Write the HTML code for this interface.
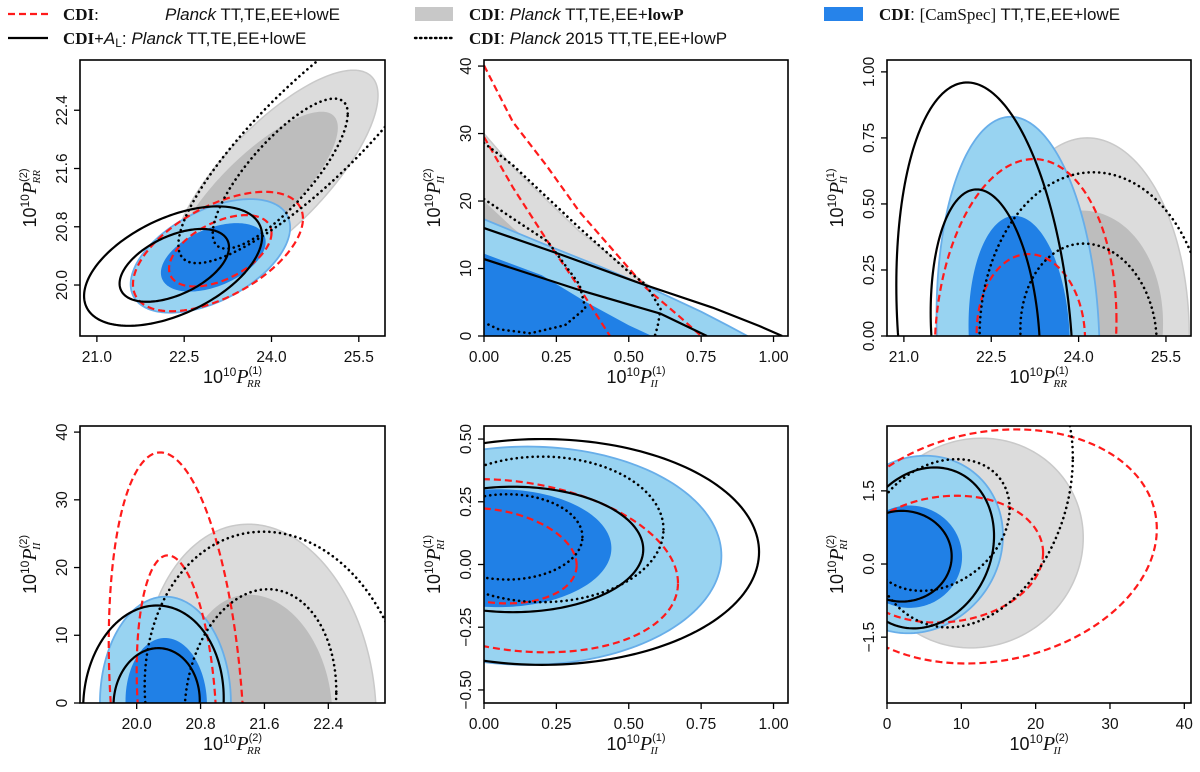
<!DOCTYPE html>
<html><head><meta charset="utf-8">
<style>
html,body{margin:0;padding:0;background:#fff;width:1200px;height:772px;overflow:hidden;}
svg{display:block;font-family:"Liberation Sans","DejaVu Sans",sans-serif;}
.tick{font-size:15.5px;fill:#111;}
.lab{font-size:18px;fill:#111;}
.leg{font-size:17px;fill:#111;}
</style></head>
<body>
<svg id="fig" width="1200" height="772" viewBox="0 0 1200 772">
<g id="legend">
  <g>
    <line x1="8" y1="14" x2="48" y2="14" stroke="#ff1a1a" stroke-width="2.2" stroke-dasharray="7,4"/>
    <text class="leg" x="63" y="20" font-family="Liberation Serif" font-weight="bold">CDI<tspan font-weight="normal">:</tspan></text>
    <text class="leg" x="165" y="20"><tspan font-style="italic">Planck</tspan> TT,TE,EE+lowE</text>
  </g>
  <g>
    <line x1="8" y1="38" x2="48" y2="38" stroke="#000" stroke-width="2.2"/>
    <text class="leg" x="63" y="44"><tspan font-family="Liberation Serif" font-weight="bold">CDI+</tspan><tspan font-style="italic">A</tspan><tspan font-size="12" dy="3">L</tspan><tspan dy="-3">: </tspan><tspan font-style="italic">Planck</tspan> TT,TE,EE+lowE</text>
  </g>
  <g>
    <rect x="415" y="7" width="38" height="14" fill="#c8c8c8"/>
    <text class="leg" x="469" y="20"><tspan font-family="Liberation Serif" font-weight="bold">CDI</tspan>: <tspan font-style="italic">Planck</tspan> TT,TE,EE+<tspan font-family="Liberation Serif" font-weight="bold">lowP</tspan></text>
  </g>
  <g>
    <line x1="415" y1="38" x2="453" y2="38" stroke="#000" stroke-width="2.4" stroke-dasharray="1.5,3.5" stroke-linecap="round"/>
    <text class="leg" x="469" y="44"><tspan font-family="Liberation Serif" font-weight="bold">CDI</tspan>: <tspan font-style="italic">Planck</tspan> 2015 TT,TE,EE+lowP</text>
  </g>
  <g>
    <rect x="824" y="7" width="39" height="14" fill="#2683ea"/>
    <text class="leg" x="879" y="20"><tspan font-family="Liberation Serif" font-weight="bold">CDI</tspan>: <tspan font-family="Liberation Serif">[CamSpec]</tspan> TT,TE,EE+lowE</text>
  </g>
</g>
<g id="panels"></g>
</svg>
<script>
// ===== Panel tick data =====
const p1XTicks = [21.0, 22.5, 24.0, 25.5];
const p1YTicks = [20.0, 20.8, 21.6, 22.4];
const p2XTicks = [0.00, 0.25, 0.50, 0.75, 1.00];
const p2YTicks = [0, 10, 20, 30, 40];
const p3XTicks = [21.0, 22.5, 24.0, 25.5];
const p3YTicks = [0.00, 0.25, 0.50, 0.75, 1.00];
const p4XTicks = [20.0, 20.8, 21.6, 22.4];
const p4YTicks = [0, 10, 20, 30, 40];
const p5XTicks = [0.00, 0.25, 0.50, 0.75, 1.00];
const p5YTicks = [-0.50, -0.25, 0.00, 0.25, 0.50];
const p6XTicks = [0, 10, 20, 30, 40];
const p6YTicks = [-1.5, 0.0, 1.5];

// ===== Contour data: ellipse params [cx, cy, sx, sy, rho] in data units =====
const p1Contours = [
  [24.07, 21.51, 1.76, 1.44, 0.76],[23.74, 21.28, 1.40, 1.10, 0.80],
  [22.95, 20.40, 1.37, 0.78, 0.50],[23.00, 20.38, 0.90, 0.47, 0.45],
  [23.08, 20.46, 1.46, 0.82, 0.55],[23.12, 20.47, 0.88, 0.49, 0.50],
  [22.31, 20.26, 1.53, 0.82, 0.50],[22.33, 20.27, 0.94, 0.50, 0.50],
  [24.70, 22.10, 2.30, 1.80, 0.86],[24.15, 21.53, 1.16, 1.03, 0.80]
];
const p3Contours = [
  [24.15, 0, 1.75, 0.75, 0.00],[23.90, 0, 1.55, 0.475, 0.10],
  [22.96, 0, 1.40, 0.83, -0.09],[22.98, 0, 0.87, 0.455, -0.09],
  [23.09, 0, 1.56, 0.67, 0.09],[23.18, 0, 0.93, 0.31, -0.04],
  [22.39, 0, 1.52, 0.96, -0.20],[22.40, 0, 0.94, 0.555, -0.16],
  [24.25, 0, 1.95, 0.62, 0.00],[24.17, 0, 1.17, 0.35, -0.07]
];
const p4Contours = [
  [21.53, 0, 1.47, 26.4, -0.09],[21.52, 0, 0.93, 16.0, -0.12],
  [20.36, 0, 0.82, 15.7, 0.00],[20.37, 0, 0.51, 9.6, -0.03],
  [20.50, 0, 0.85, 37.0, -0.24],[20.50, 0, 0.50, 21.8, -0.22],
  [20.21, 0, 0.88, 14.4, 0.05],[20.25, 0, 0.54, 8.1, 0.04],
  [21.75, 0, 1.65, 25.3, -0.10],[21.55, 0, 0.95, 16.8, 0.10]
];
const p5Contours = [
  [0.15, 0.04, 0.60, 0.42, 0.0],[0.05, 0.06, 0.36, 0.22, 0.0],
  [0.15, 0.035, 0.67, 0.435, 0.0],[0.05, 0.065, 0.39, 0.235, 0.0],
  [0.10, -0.005, 0.57, 0.345, -0.2],[0.02, 0.035, 0.30, 0.19, -0.2],
  [0.20, 0.05, 0.75, 0.45, 0.0],[0.10, 0.06, 0.45, 0.25, 0.0],
  [0.20, 0.14, 0.42, 0.29, 0.0],[0.08, 0.11, 0.26, 0.17, 0.0]
];
const p6Contours = [
  [12.0, 0.43, 14.4, 2.15, 0.05],[4.0, 0.20, 10.0, 1.40, 0.05],
  [4.0, 0.40, 11.6, 1.82, 0.10],[3.0, 0.15, 7.1, 1.05, 0.0],
  [14.0, 0.36, 22.3, 2.40, 0.15],[8.0, 0.10, 13.0, 1.30, 0.10],
  [5.0, 0.33, 9.4, 1.65, 0.15],[2.0, 0.16, 6.7, 0.93, 0.0],
  [11.0, 1.60, 14.0, 2.90, 0.20],[7.0, 0.80, 9.5, 1.35, 0.25]
];
// Panel 2 contour point arrays (x, y)
const p2GrayOuterX = [0, 0.10, 0.22, 0.33, 0.45, 0.55, 0.70, 0.85];
const p2GrayOuterY = [30, 25, 20, 15.5, 11.5, 8, 4, 0];
const p2GrayInnerX = [0, 0.10, 0.30, 0.50, 0.60];
const p2GrayInnerY = [20, 16, 9, 3, 0];
const p2BlueOuterX = [0, 0.22, 0.40, 0.55, 0.75, 0.84, 0.91];
const p2BlueOuterY = [17.3, 13.4, 10.3, 7.6, 3.6, 1.6, 0];
const p2BlueInnerX = [0, 0.20, 0.35, 0.50, 0.58];
const p2BlueInnerY = [12.2, 9, 5.1, 1.6, 0];
const p2RedOuterX = [0, 0.10, 0.215, 0.33, 0.44, 0.56, 0.68, 0.75];
const p2RedOuterY = [40.1, 31.7, 25.3, 18.4, 13, 7.1, 2.7, 0];
const p2RedInnerX = [0, 0.10, 0.22, 0.33, 0.435];
const p2RedInnerY = [29.5, 22, 14, 7.1, 0];
const p2BlackOuterX = [0, 0.25, 0.54, 0.79, 0.95, 1.03];
const p2BlackOuterY = [16, 12.3, 7.8, 4.2, 1.5, 0];
const p2BlackInnerX = [0, 0.33, 0.61, 0.77];
const p2BlackInnerY = [11.4, 6.8, 3.3, 0];
const p2DotOuterX = [0, 0.10, 0.33, 0.50, 0.56, 0.61, 0.60, 0.59];
const p2DotOuterY = [28.6, 25.3, 16, 9.5, 7.6, 4, 1.5, 0];
const p2DotInnerX = [0, 0.10, 0.22, 0.33, 0.35, 0.28, 0.16, 0.05, 0];
const p2DotInnerY = [20.3, 17.4, 14, 7.6, 4.1, 1.6, 0.4, 1.0, 2.0];

const NS = "http://www.w3.org/2000/svg";
const root = document.getElementById('panels');
function mk(tag, attrs, parent){
  const e = document.createElementNS(NS, tag);
  for (const k in attrs) e.setAttribute(k, attrs[k]);
  if (parent) parent.appendChild(e);
  return e;
}
const STY = [
  {fill:'#dcdcdc', stroke:'#c9c9c9', sw:1.5},
  {fill:'#bdbdbd', stroke:'none', sw:0},
  {fill:'#98d3f1', stroke:'#68aee9', sw:1.8},
  {fill:'#2080e6', stroke:'none', sw:0},
  {fill:'none', stroke:'#ff1a1a', sw:2.2, dash:'7,4'},
  {fill:'none', stroke:'#ff1a1a', sw:2.2, dash:'7,4'},
  {fill:'none', stroke:'#000', sw:2.2},
  {fill:'none', stroke:'#000', sw:2.2},
  {fill:'none', stroke:'#000', sw:2.6, dash:'0.1,5.2', cap:'round'},
  {fill:'none', stroke:'#000', sw:2.6, dash:'0.1,5.2', cap:'round'}
];
const NAMES = ['gray-outer-contour','gray-inner-contour','blue-outer-contour','blue-inner-contour','red-dashed-outer-contour','red-dashed-inner-contour','black-outer-contour','black-inner-contour','dotted-outer-contour','dotted-inner-contour'];

function styleEl(el, s){
  el.setAttribute('fill', s.fill);
  el.setAttribute('stroke', s.stroke);
  el.setAttribute('stroke-width', s.sw);
  if (s.dash) el.setAttribute('stroke-dasharray', s.dash);
  if (s.cap) el.setAttribute('stroke-linecap', s.cap);
  el.setAttribute('stroke-linejoin','round');
}

function ellipseD(c, X, Y, box){
  const [cx, cy, sx, sy, rho] = c;
  const q = Math.sqrt(1 - rho*rho);
  let d = '';
  for (let i = 0; i <= 200; i++){
    const t = i/200*2*Math.PI;
    const x = cx + sx*Math.cos(t);
    const y = cy + sy*(rho*Math.cos(t) + q*Math.sin(t));
    let px = Math.min(box[1], Math.max(box[0], X(x)));
    let py = Math.min(box[3], Math.max(box[2], Y(y)));
    d += (i ? 'L' : 'M') + px.toFixed(2) + ',' + py.toFixed(2);
  }
  return d + 'Z';
}
function polyD(xs, ys, X, Y, closeAxes){
  let d = closeAxes ? 'M' + X(0) + ',' + Y(0) + 'L' : 'M';
  for (let i = 0; i < xs.length; i++){
    d += (i ? 'L' : '') + X(xs[i]).toFixed(2) + ',' + Y(ys[i]).toFixed(2);
  }
  if (closeAxes) d += 'Z';
  return d;
}
function fmt(v, dec){ const s = v.toFixed(dec); return v < 0 ? '\u2212' + s.slice(1) : s; }

function panel(cfg){
  const g = mk('g', {}, root);
  
  
  const X = v => cfg.px0 + (v - cfg.x0)/(cfg.x1 - cfg.x0)*(cfg.px1 - cfg.px0);
  const Y = v => cfg.py0 + (v - cfg.y0)/(cfg.y1 - cfg.y0)*(cfg.py1 - cfg.py0);
  const box = [cfg.px0 - 3, cfg.px1 + 3, cfg.py1 - 3, cfg.py0 + 3];
  const cid = 'clip-' + cfg.name;
  const cp = mk('clipPath', {id: cid}, g);
  mk('rect', {x: cfg.px0, y: cfg.py1, width: cfg.px1 - cfg.px0, height: cfg.py0 - cfg.py1}, cp);
  const plot = mk('g', {'clip-path': 'url(#' + cid + ')'}, g);
  
  
  cfg.draw(plot, X, Y, box);
  const fr = mk('rect', {x: cfg.px0, y: cfg.py1, width: cfg.px1 - cfg.px0, height: cfg.py0 - cfg.py1, fill:'none', stroke:'#000', 'stroke-width':1.6}, g);
  
  
  cfg.xt.forEach(v => {
    const x = X(v);
    const tk = mk('line', {x1:x, x2:x, y1:cfg.py0, y2:cfg.py0+6, stroke:'#000', 'stroke-width':1.3}, g);
    
    
    const t = mk('text', {x:x, y:cfg.py0+26, 'text-anchor':'middle', class:'tick'}, g);
    t.textContent = fmt(v, cfg.xd);
    
    
  });
  cfg.yt.forEach(v => {
    const y = Y(v);
    const tk = mk('line', {x1:cfg.px0-6, x2:cfg.px0, y1:y, y2:y, stroke:'#000', 'stroke-width':1.3}, g);
    
    
    const tx = cfg.px0 - 13;
    const t = mk('text', {x:tx, y:y, 'text-anchor':'middle', class:'tick', transform:'rotate(-90 ' + tx + ' ' + y + ')'}, g);
    t.textContent = fmt(v, cfg.yd);
    
    
  });
  const lx = (cfg.px0 + cfg.px1)/2;
  const xl = mk('text', {x:lx, y:cfg.py0+47, 'text-anchor':'middle', class:'lab'}, g);
  xl.innerHTML = '10<tspan font-size="12" dy="-7">10</tspan><tspan dy="7" font-family="Liberation Serif" font-style="italic" font-size="20">P</tspan><tspan font-size="11" dy="-9">(' + cfg.xs + ')</tspan><tspan font-size="11" dx="-15" dy="13" font-family="Liberation Serif" font-style="italic">' + cfg.xsub + '</tspan>';
  
  
  const ly = (cfg.py0 + cfg.py1)/2, lxx = cfg.px0 - 44;
  const yl = mk('text', {x:lxx, y:ly, 'text-anchor':'middle', class:'lab', transform:'rotate(-90 ' + lxx + ' ' + ly + ')'}, g);
  yl.innerHTML = '10<tspan font-size="12" dy="-7">10</tspan><tspan dy="7" font-family="Liberation Serif" font-style="italic" font-size="20">P</tspan><tspan font-size="11" dy="-9">(' + cfg.ys + ')</tspan><tspan font-size="11" dx="-15" dy="13" font-family="Liberation Serif" font-style="italic">' + cfg.ysub + '</tspan>';
  
  
}

function drawEllipses(arr){
  return function(plot, X, Y, box){
    arr.forEach((c, i) => {
      const p = mk('path', {d: ellipseD(c, X, Y, box)}, plot);
      styleEl(p, STY[i]);
      
      
    });
  };
}
function drawP2(plot, X, Y){
  const sets = [
    [p2GrayOuterX, p2GrayOuterY, true],[p2GrayInnerX, p2GrayInnerY, true],
    [p2BlueOuterX, p2BlueOuterY, true],[p2BlueInnerX, p2BlueInnerY, true],
    [p2RedOuterX, p2RedOuterY, false],[p2RedInnerX, p2RedInnerY, false],
    [p2BlackOuterX, p2BlackOuterY, false],[p2BlackInnerX, p2BlackInnerY, false],
    [p2DotOuterX, p2DotOuterY, false],[p2DotInnerX, p2DotInnerY, false]
  ];
  sets.forEach((s, i) => {
    const p = mk('path', {d: polyD(s[0], s[1], X, Y, s[2])}, plot);
    styleEl(p, STY[i]);
    
    
  });
}

panel({name:'panel-rr1-rr2', x0:20.71, x1:25.95, px0:80, px1:385, y0:19.30, y1:23.09, py0:336, py1:60,
  xt:p1XTicks, yt:p1YTicks, xd:1, yd:1, xs:'1', xsub:'RR', ys:'2', ysub:'RR', draw:drawEllipses(p1Contours)});
panel({name:'panel-ii1-ii2', x0:0, x1:1.05, px0:484, px1:788, y0:0, y1:40.9, py0:336, py1:60,
  xt:p2XTicks, yt:p2YTicks, xd:2, yd:0, xs:'1', xsub:'II', ys:'2', ysub:'II', draw:drawP2});
panel({name:'panel-rr1-ii1', x0:20.71, x1:25.93, px0:887, px1:1191, y0:0, y1:1.045, py0:336, py1:60,
  xt:p3XTicks, yt:p3YTicks, xd:1, yd:2, xs:'1', xsub:'RR', ys:'1', ysub:'II', draw:drawEllipses(p3Contours)});
panel({name:'panel-rr2-ii2', x0:19.29, x1:23.11, px0:80, px1:385, y0:0, y1:40.9, py0:703, py1:426,
  xt:p4XTicks, yt:p4YTicks, xd:1, yd:0, xs:'2', xsub:'RR', ys:'2', ysub:'II', draw:drawEllipses(p4Contours)});
panel({name:'panel-ii1-ri1', x0:0, x1:1.05, px0:484, px1:788, y0:-0.552, y1:0.552, py0:703, py1:426,
  xt:p5XTicks, yt:p5YTicks, xd:2, yd:2, xs:'1', xsub:'II', ys:'1', ysub:'RI', draw:drawEllipses(p5Contours)});
panel({name:'panel-ii2-ri2', x0:0, x1:40.9, px0:887, px1:1191, y0:-2.85, y1:2.83, py0:703, py1:426,
  xt:p6XTicks, yt:p6YTicks, xd:0, yd:1, xs:'2', xsub:'II', ys:'2', ysub:'RI', draw:drawEllipses(p6Contours)});
</script>
</body></html>
